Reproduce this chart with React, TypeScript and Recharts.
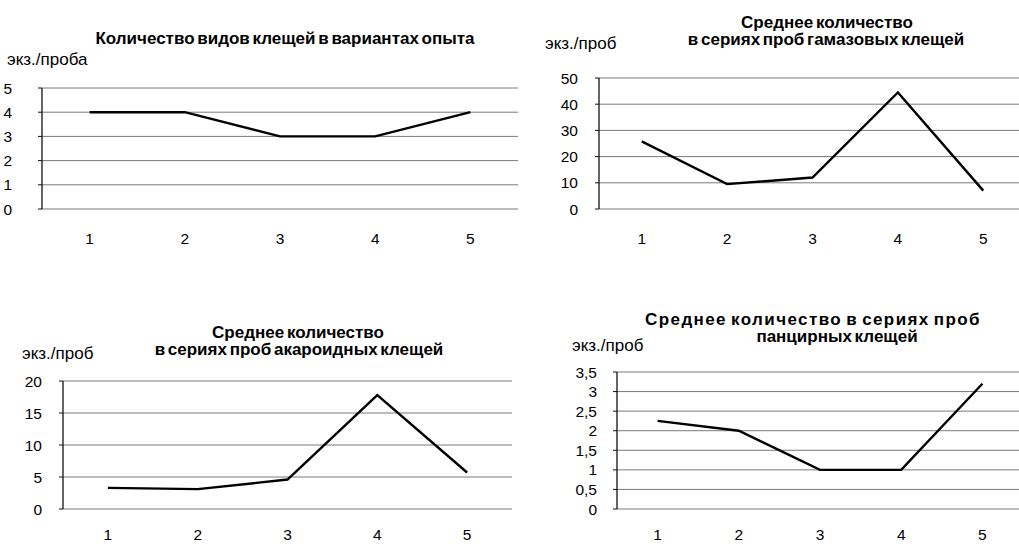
import React from 'react';
import { LineChart, Line, XAxis, YAxis, CartesianGrid } from 'recharts';

const variants = [1, 2, 3, 4, 5];
const speciesCount = [4, 4, 3, 3, 4];
const gamasidMean = [25.8, 9.5, 12, 44.5, 7];
const acaridMean = [3.3, 3.1, 4.6, 17.8, 5.7];
const oribatidMean = [2.25, 2, 1, 1, 3.2];

const ticks1 = [0, 1, 2, 3, 4, 5];
const ticks2 = [0, 10, 20, 30, 40, 50];
const ticks3 = [0, 5, 10, 15, 20];
const ticks4 = [0, 0.5, 1, 1.5, 2, 2.5, 3, 3.5];
const boundaryTicks = [0.5, 1.5, 2.5, 3.5, 4.5, 5.5];

const title1 = ['Количество видов клещей в вариантах опыта'];
const title2 = ['Среднее количество', 'в сериях проб гамазовых клещей'];
const title3 = ['Среднее количество', 'в сериях проб акароидных клещей'];
const title4 = ['Среднее количество в сериях проб', 'панцирных клещей'];
const unitLabels = ['экз./проба', 'экз./проб', 'экз./проб', 'экз./проб'];

const FONT = '"Liberation Sans", Arial, sans-serif';
const TICK_FONT = 15.5;

type PanelProps = {
  values: number[];
  ticks: number[];
  left: number;
  top: number;
  width: number;
  height: number;
  yAxisWidth: number;
  marginTop: number;
  marginRight: number;
  xAxisHeight: number;
  xLabelGap: number;
  yLabelGap: number;
  comma?: boolean;
};

function Panel(p: PanelProps) {
  const data = variants.map((v, i) => ({ x: v, y: p.values[i] }));
  const domainMax = p.ticks[p.ticks.length - 1];
  return (
    <div style={{ position: 'absolute', left: p.left, top: p.top, width: p.width, height: p.height }}>
      <LineChart
        width={p.width}
        height={p.height}
        data={data}
        margin={{ top: p.marginTop, right: p.marginRight, left: 0, bottom: 0 }}
      >
        <CartesianGrid vertical={false} stroke="#7a7a7a" strokeWidth={1} />
        <XAxis
          xAxisId="b"
          dataKey="x"
          type="number"
          domain={[0.5, 5.5]}
          ticks={boundaryTicks}
          height={0}
          axisLine={{ stroke: '#111', strokeWidth: 1.3 }}
          tickLine={{ stroke: '#111' }}
          tickSize={4}
          tickFormatter={() => ''}
          allowDataOverflow
        />
        <XAxis
          xAxisId="l"
          dataKey="x"
          type="number"
          domain={[0.5, 5.5]}
          ticks={variants}
          height={p.xAxisHeight}
          axisLine={false}
          tickLine={false}
          tickSize={0}
          tickMargin={p.xLabelGap}
          tick={{ fill: '#000', fontSize: TICK_FONT, fontFamily: FONT }}
          allowDataOverflow
        />
        <YAxis
          type="number"
          domain={[0, domainMax]}
          ticks={p.ticks}
          width={p.yAxisWidth}
          axisLine={{ stroke: '#111', strokeWidth: 1.3 }}
          tickLine={{ stroke: '#111' }}
          tickSize={4}
          tickMargin={p.yLabelGap}
          interval={0}
          tick={{ fill: '#000', fontSize: TICK_FONT, fontFamily: FONT }}
          tickFormatter={(v: number) => (p.comma ? String(v).replace('.', ',') : String(v))}
        />
        <Line
          xAxisId="l"
          dataKey="y"
          type="linear"
          stroke="#000"
          strokeWidth={2.4}
          dot={false}
          isAnimationActive={false}
        />
      </LineChart>
    </div>
  );
}

function TitleLine({ text, cx, top, spacing }: { text: string; cx: number; top: number; spacing?: number }) {
  return (
    <div
      style={{
        position: 'absolute',
        left: cx - 300,
        width: 600,
        top,
        textAlign: 'center',
        fontFamily: FONT,
        fontWeight: 700,
        fontSize: 17,
        lineHeight: '20px',
        color: '#000',
        whiteSpace: 'nowrap',
        wordSpacing: '-2px',
        letterSpacing: spacing ? `${spacing}px` : undefined,
      }}
    >
      {text}
    </div>
  );
}

function UnitLabel({ text, left, top }: { text: string; left: number; top: number }) {
  return (
    <div
      style={{
        position: 'absolute',
        left,
        top,
        fontFamily: FONT,
        fontSize: 17,
        lineHeight: '20px',
        color: '#000',
        whiteSpace: 'nowrap',
      }}
    >
      {text}
    </div>
  );
}

export default function App() {
  return (
    <div
      style={{
        position: 'absolute',
        left: 0,
        top: 0,
        width: 1019,
        height: 544,
        overflow: 'hidden',
        background: '#fff',
      }}
    >
      <TitleLine text={title1[0]} cx={285} top={29} />
      <UnitLabel text={unitLabels[0]} left={7} top={50} />
      <Panel
        values={speciesCount}
        ticks={ticks1}
        left={0}
        top={70}
        width={520}
        height={180}
        yAxisWidth={42}
        marginTop={18}
        marginRight={2}
        xAxisHeight={41}
        xLabelGap={24}
        yLabelGap={26}
      />

      <TitleLine text={title2[0]} cx={827} top={13} />
      <TitleLine text={title2[1]} cx={826} top={30} />
      <UnitLabel text={unitLabels[1]} left={545} top={34} />
      <Panel
        values={gamasidMean}
        ticks={ticks2}
        left={520}
        top={60}
        width={510}
        height={190}
        yAxisWidth={79}
        marginTop={18}
        marginRight={4}
        xAxisHeight={41}
        xLabelGap={24}
        yLabelGap={17}
      />

      <TitleLine text={title3[0]} cx={298} top={323} />
      <TitleLine text={title3[1]} cx={299} top={340} />
      <UnitLabel text={unitLabels[2]} left={22} top={344} />
      <Panel
        values={acaridMean}
        ticks={ticks3}
        left={0}
        top={363}
        width={520}
        height={181}
        yAxisWidth={63}
        marginTop={18}
        marginRight={8}
        xAxisHeight={35}
        xLabelGap={20}
        yLabelGap={17}
      />

      <TitleLine text={title4[0]} cx={813} top={310} spacing={1.4} />
      <TitleLine text={title4[1]} cx={837} top={327} />
      <UnitLabel text={unitLabels[3]} left={572} top={336} />
      <Panel
        values={oribatidMean}
        ticks={ticks4}
        left={520}
        top={354}
        width={510}
        height={190}
        yAxisWidth={97}
        marginTop={18}
        marginRight={7}
        xAxisHeight={35}
        xLabelGap={20}
        yLabelGap={16}
        comma
      />
    </div>
  );
}
